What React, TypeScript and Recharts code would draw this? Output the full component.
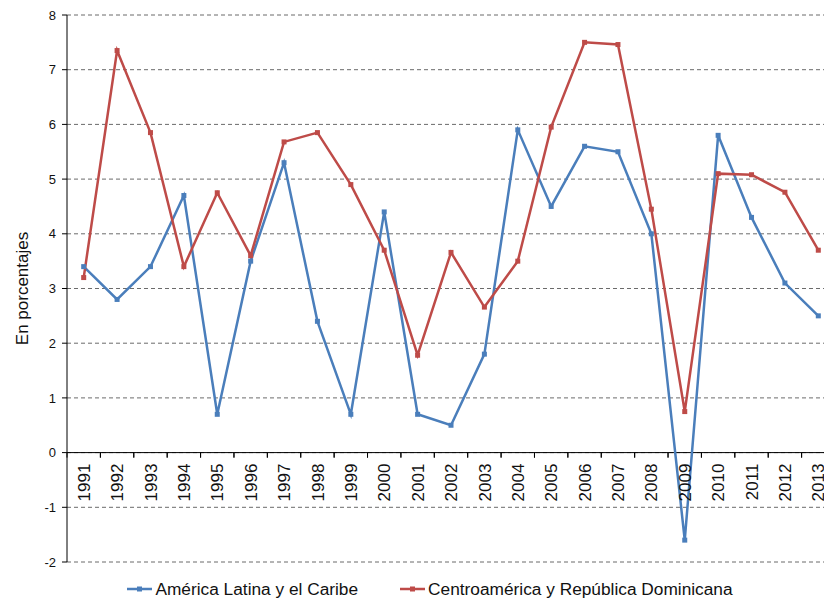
import { LineChart, Line, XAxis, YAxis, CartesianGrid, ReferenceLine, Legend } from 'recharts';

const years = ['1991', '1992', '1993', '1994', '1995', '1996', '1997', '1998', '1999', '2000', '2001', '2002', '2003', '2004', '2005', '2006', '2007', '2008', '2009', '2010', '2011', '2012', '2013'];
const americaLatina = [3.4, 2.8, 3.4, 4.7, 0.7, 3.5, 5.3, 2.4, 0.7, 4.4, 0.7, 0.5, 1.8, 5.9, 4.5, 5.6, 5.5, 4.0, -1.6, 5.8, 4.3, 3.1, 2.5];
const centroamerica = [3.2, 7.35, 5.85, 3.4, 4.75, 3.6, 5.68, 5.85, 4.9, 3.7, 1.78, 3.66, 2.66, 3.5, 5.95, 7.5, 7.46, 4.45, 0.75, 5.1, 5.08, 4.76, 3.7];
const yTicks = [-2, -1, 0, 1, 2, 3, 4, 5, 6, 7, 8];

const BLUE = '#4A7EBB';
const RED = '#BE4B48';

const data = years.map((year, i) => ({ year, al: americaLatina[i], ca: centroamerica[i] }));

const W = 860;
const H = 603;
const M = { top: 15, right: 25, bottom: 0, left: 0 };
const Y_AXIS_W = 67;
const LEGEND_H = 40;
const X_AXIS_H = 1;
const plotW = W - M.left - M.right - Y_AXIS_W;
const plotH = H - M.top - M.bottom - LEGEND_H - X_AXIS_H;
const band = plotW / years.length;
const zeroOffset = (plotH * (0 - yTicks[0])) / (yTicks[yTicks.length - 1] - yTicks[0]);

const YearTick = (props: any) => {
  const { x, y, payload } = props;
  const zy = y - zeroOffset;
  return (
    <g>
      <line x1={x - band / 2} x2={x - band / 2} y1={zy} y2={zy + 5} stroke="#000" />
      <line x1={x + band / 2} x2={x + band / 2} y1={zy} y2={zy + 5} stroke="#000" />
      <g transform={`translate(${x}, ${zy + 11}) rotate(-90)`}>
        <text x={0} y={0} textAnchor="end" dy="0.36em" fontSize={17} fill="#111">
          {payload.value}
        </text>
      </g>
    </g>
  );
};

const squareDot = (color: string) => (props: any) => {
  const { cx, cy, index } = props;
  if (cx == null || cy == null) return <g key={index} />;
  return <rect key={index} x={cx - 2.5} y={cy - 2.5} width={5} height={5} fill={color} />;
};

const LegendContent = () => (
  <div style={{ display: 'flex', justifyContent: 'center', alignItems: 'center', height: LEGEND_H, fontSize: 17.3, color: '#111', fontFamily: 'Liberation Sans, Arial, sans-serif', paddingTop: 12, boxSizing: 'border-box' }}>
    {[
      { label: 'América Latina y el Caribe', color: BLUE },
      { label: 'Centroamérica y República Dominicana', color: RED },
    ].map((item, i) => (
      <div key={item.label} style={{ display: 'flex', alignItems: 'center', marginLeft: i ? 42 : 0 }}>
        <svg width={25} height={10} style={{ marginRight: 3 }}>
          <line x1={0} x2={25} y1={5} y2={5} stroke={item.color} strokeWidth={2.5} />
          <rect x={10} y={2.5} width={5} height={5} fill={item.color} />
        </svg>
        <span>{item.label}</span>
      </div>
    ))}
  </div>
);

export default function App() {
  return (
    <div style={{ position: 'absolute', left: 0, top: 0, width: 824, height: 603, overflow: 'hidden', background: '#fff', fontFamily: 'Liberation Sans, Arial, sans-serif' }}>
      <LineChart width={W} height={H} data={data} margin={M}>
        <CartesianGrid vertical={false} strokeDasharray="4 3" stroke="#6b6b6b" />
        <XAxis
          dataKey="year"
          interval={0}
          axisLine={false}
          tickLine={false}
          tickSize={0}
          tickMargin={0}
          height={X_AXIS_H}
          padding={{ left: band / 2, right: band / 2 }}
          tick={(p: any) => <YearTick {...p} />}
        />
        <YAxis
          domain={[-2, 8]}
          ticks={yTicks}
          interval={0}
          width={Y_AXIS_W}
          axisLine={{ stroke: '#000' }}
          tickLine={{ stroke: '#000' }}
          tickSize={5}
          tickMargin={6}
          tick={{ fill: '#111', fontSize: 13 }}
          label={{ value: 'En porcentajes', angle: -90, position: 'insideLeft', offset: 22, style: { textAnchor: 'middle', fill: '#111', fontSize: 17 } }}
        />
        <ReferenceLine y={0} stroke="#000" />
        <Legend verticalAlign="bottom" height={LEGEND_H} wrapperStyle={{ left: 0, width: W }} content={<LegendContent />} />
        <Line type="linear" dataKey="al" stroke={BLUE} strokeWidth={2.5} dot={squareDot(BLUE)} activeDot={false} isAnimationActive={false} />
        <Line type="linear" dataKey="ca" stroke={RED} strokeWidth={2.5} dot={squareDot(RED)} activeDot={false} isAnimationActive={false} />
      </LineChart>
    </div>
  );
}
